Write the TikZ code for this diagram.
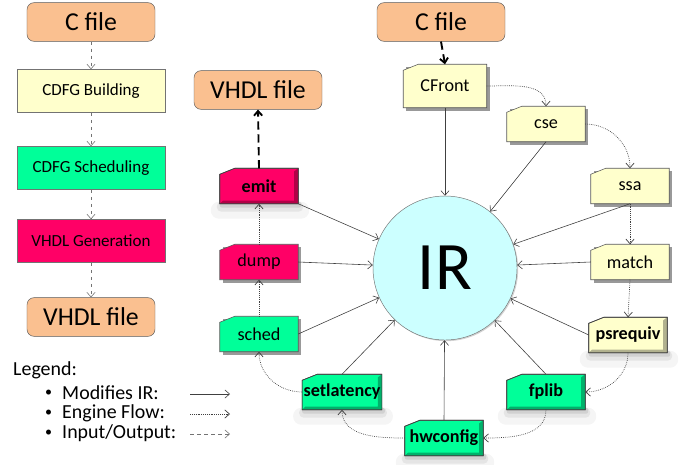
\documentclass[tikz,border=0pt]{standalone}
\usepackage{fontspec}
\setmainfont{Carlito}
\usetikzlibrary{positioning, arrows.meta, shadows, backgrounds}

\definecolor{peach}{RGB}{250,192,144}
\definecolor{paleyellow}{RGB}{255,255,204}
\definecolor{mint}{RGB}{0,255,153}
\definecolor{hotpink}{RGB}{255,0,102}
\definecolor{palecyan}{RGB}{204,255,255}

\begin{document}
\begin{tikzpicture}[
    x=0.03cm, y=-0.03cm,
    >={Straight Barb[length=4pt, width=7pt]},
    file/.style={
        draw=black!65, fill=peach, rounded corners=6pt,
        minimum width=3.84cm, minimum height=1.16cm,
        font=\fontsize{22}{24}\selectfont,
    },
    stage/.style={
        draw=black!55, minimum width=4.44cm, minimum height=1.29cm,
        font=\fontsize{14.5}{16}\selectfont,
    },
    engine/.style={
        minimum width=2.34cm, minimum height=1.05cm, inner sep=1pt,
        font=\fontsize{15.5}{17}\selectfont,
    },
    newengine/.style={engine, font=\fontsize{15.5}{17}\selectfont\bfseries},
    card/.style={draw=black!65, line width=0.5pt},
    ir/.style={
        circle, draw=black!55, fill=palecyan, minimum size=4.32cm,
        font=\fontsize{58}{60}\selectfont,
        drop shadow={shadow xshift=1pt, shadow yshift=-1pt, fill=black!35},
    },
    legendtext/.style={anchor=west, font=\fontsize{17}{19}\selectfont, inner sep=0pt},
    modarrow/.style={->, draw=black!75, line width=0.5pt},
    flowarrow/.style={->, draw=black!75, line width=0.6pt, densely dotted},
    ioarrow/.style={->, draw=black, line width=1.6pt, dash pattern=on 7pt off 4pt},
    steparrow/.style={->, draw=black!55, line width=0.5pt, dashed},
]
\useasboundingbox (0,0) rectangle (681,464);

% ============ OVERVIEW (left column) ============
\node[file]                   (cin)    at (91,22)  {C file};
\node[stage, fill=paleyellow] (build)  at (91,91)  {CDFG Building};
\node[stage, fill=mint]       (sched0) at (91,168) {CDFG Scheduling};
\node[stage, fill=hotpink]    (gen)    at (91,241) {VHDL Generation};
\node[file]                   (vout)   at (91,317) {VHDL file};

\draw[steparrow] (cin)    -- (build);
\draw[steparrow] (build)  -- (sched0);
\draw[steparrow] (sched0) -- (gen);
\draw[steparrow] (gen)    -- (vout);

% ============ ENGINES AROUND THE IR ============
\node[ir] (irnode) at (445,268) {IR};

\node[file] (csrc)  at (441,22) {C file};
\node[file] (vhdl)  at (258,90) {VHDL file};

% engine labels; their boxes go on the background layer below
\node[engine, minimum width=2.49cm, minimum height=1.29cm] (cfront) at (445,86) {CFront};
\node[engine]    (cse)      at (546,124) {cse};
\node[engine]    (ssa)      at (630,186) {ssa};
\node[engine]    (match)    at (630,262) {match};
\node[newengine] (psrequiv) at (628,335) {psrequiv};
\node[newengine] (fplib)    at (546,392) {fplib};
\node[newengine] (hwconfig) at (444,438) {hwconfig};
\node[newengine] (setlat)   at (342,392) {setlatency};
\node[engine]    (sched)    at (259,334) {sched};
\node[engine]    (dump)     at (259,262) {dump};
\node[newengine] (emit)     at (259,186) {emit};

% every engine modifies the IR
\draw[modarrow] (cfront.south)    -- (irnode);
\draw[modarrow] (cse.south)       -- (irnode);
\draw[modarrow] (ssa.south)       -- (irnode);
\draw[modarrow] (match.west)      -- (irnode);
\draw[modarrow] (psrequiv.west)   -- (irnode);
\draw[modarrow] (fplib.north)     -- (irnode);
\draw[modarrow] (hwconfig.north)  -- (irnode);
\draw[modarrow] (setlat.north)    -- (irnode);
\draw[modarrow] (sched.east)      -- (irnode);
\draw[modarrow] (dump.east)       -- (irnode);
\draw[modarrow] (emit.south east) -- (irnode);

% engine flow, clockwise
\draw[flowarrow] (cfront.east)    to[out=0, in=90]    (cse.north);
\draw[flowarrow] (cse.east)       to[out=0, in=90]    (ssa.north);
\draw[flowarrow] (ssa.south)      --                  (match.north);
\draw[flowarrow] (match.south)    --                  (psrequiv.north);
\draw[flowarrow] (psrequiv.south) to[out=270, in=0]   (fplib.east);
\draw[flowarrow] (fplib.south)    to[out=270, in=0]   (hwconfig.east);
\draw[flowarrow] (hwconfig.west)  to[out=180, in=270] (setlat.south);
\draw[flowarrow] (setlat.west)    to[out=180, in=270] (sched.south);
\draw[flowarrow] (sched.north)    --                  (dump.south);
\draw[flowarrow] (dump.north)     --                  (emit.south);

% input / output
\draw[ioarrow] (csrc.south) -- (cfront.north);
\draw[ioarrow] (emit.north) -- (vhdl.south);

% ============ ENGINE BOXES ============
\begin{pgfonlayer}{background}
    % original engines: hard shadow, clipped corner
    \foreach \n/\c in {cfront/paleyellow, cse/paleyellow, ssa/paleyellow,
                       match/paleyellow, sched/mint, dump/hotpink} {
        \fill[black!40] ([shift={(3,3)}]\n.south west) rectangle ([shift={(3,3)}]\n.north east);
        \filldraw[card, fill=\c] (\n.south west) -- ([shift={(0,6)}]\n.north west)
            -- ([shift={(15,0)}]\n.north west) -- (\n.north east) -- (\n.south east) -- cycle;
    }
    % added engines: soft shadow, bevelled edges
    \foreach \n/\c in {psrequiv/paleyellow, fplib/mint, hwconfig/mint,
                       setlat/mint, emit/hotpink} {
        \fill[black!4, rounded corners=7pt] ([shift={(-9,-2)}]\n.south west) rectangle ([shift={(11,15)}]\n.south east);
        \fill[black!10, rounded corners=4pt] ([shift={(-3,-2)}]\n.south west) rectangle ([shift={(5,8)}]\n.south east);
        \fill[black!18, rounded corners=2pt] ([shift={(0,-2)}]\n.south west) rectangle ([shift={(3,4)}]\n.south east);
        \filldraw[card, draw=black!75, fill=\c] (\n.south west) -- ([shift={(0,6)}]\n.north west)
            -- ([shift={(15,0)}]\n.north west) -- (\n.north east) -- (\n.south east) -- cycle;
        \fill[\c!70!black] (\n.north east) -- (\n.south east) -- (\n.south west)
            -- ([shift={(3,-3)}]\n.south west) -- ([shift={(-4,-3)}]\n.south east)
            -- ([shift={(-4,3)}]\n.north east) -- cycle;
        \draw[card, draw=black!75] (\n.south west) -- ([shift={(0,6)}]\n.north west)
            -- ([shift={(15,0)}]\n.north west) -- (\n.north east) -- (\n.south east) -- cycle;
    }
\end{pgfonlayer}

% ============ LEGEND ============
\node[legendtext] (legend) at (13,370) {Legend:};
\foreach \y/\name/\txt in {393/mod/{Modifies IR:}, 413/flow/{Engine Flow:}, 433/io/{Input/Output:}} {
    \node[legendtext, font=\fontsize{12}{12}\selectfont] (b\name) at (45,\y) {\textbullet};
    \node[legendtext] (t\name) at (62,\y) {\txt};
    \coordinate (s\name) at (190,\y+1);
    \coordinate (e\name) at (230,\y+1);
}
\draw[modarrow]  (smod)  -- (emod);
\draw[flowarrow] (sflow) -- (eflow);
\draw[steparrow] (sio)   -- (eio);

\end{tikzpicture}
\end{document}
